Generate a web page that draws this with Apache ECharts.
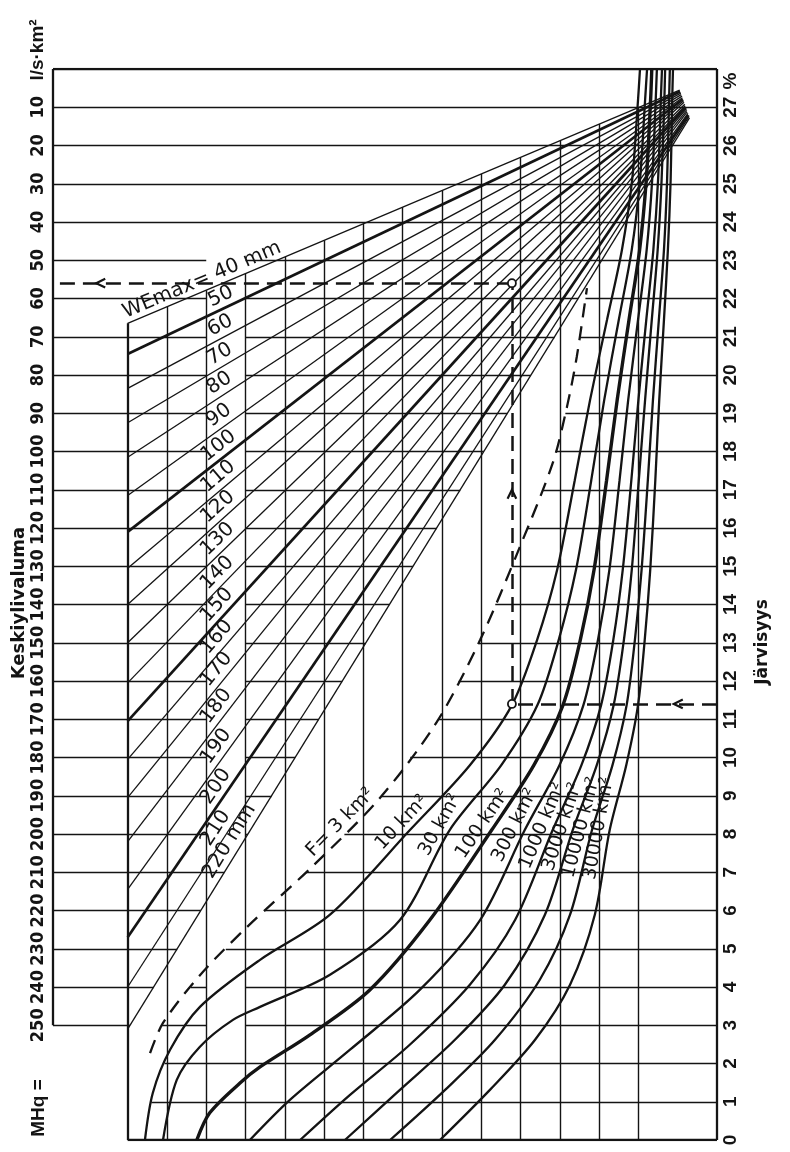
<!DOCTYPE html>
<html>
<head>
<meta charset="utf-8">
<script src="https://cdn.jsdelivr.net/npm/echarts@6.0.0/dist/echarts.min.js"></script>
<style>
html,body{margin:0;padding:0;background:#fff;}
#chart{width:790px;height:1152px;}
</style>
</head>
<body>
<div id="chart"></div>
<script>
// ---------------- DATA ----------------
// left scale: Keskiylivaluma MHq (l/s·km²), right scale: Järvisyys (%)
const mhqTicks = [10,20,30,40,50,60,70,80,90,100,110,120,130,140,150,160,170,180,190,200,210,220,230,240,250];
const jarvisyysTicks = [0,1,2,3,4,5,6,7,8,9,10,11,12,13,14,15,16,17,18,19,20,21,22,23,24,25,26,27];

// WEmax fan lines (mm): MHq where each line meets the inner left border (u = 0) and its end point
const weMax     = [40,50,60,70,80,90,100,110,120,130,140,150,160,170,180,190,200,210,220];
const weLabels  = ['WEmax= 40 mm','50','60','70','80','90','100','110','120','130','140','150','160','170','180','190','200','210','220 mm'];
const weLeftMHq = [66.5,74.5,83.5,92.5,101.5,111.5,121,130.5,140,150,160.5,170.5,180.5,190.5,202,214.5,227,240,251];
const weEndU    = [14.05,14.06,14.08,14.09,14.11,14.12,14.13,14.15,14.16,14.18,14.19,14.2,14.22,14.23,14.24,14.26,14.27,14.29,14.3];
const weEndMHq  = [5.5,5.9,6.3,6.7,7.1,7.5,7.9,8.3,8.7,9.2,9.6,10.0,10.4,10.8,11.2,11.6,12.0,12.4,12.8];

// catchment area curves F (km²): [u, position on the MHq scale]
const fNames = ['F= 3 km²','10 km²','30 km²','100 km²','300 km²','1000 km²','3000 km²','10000 km²','30000 km²'];
const curveF3 = [[0.57,257.3],[0.90,249.4],[1.84,236.9],[3.04,224.3],[4.69,208.6],[6.42,190.6],[7.87,170.7],[8.97,149.3],[9.98,125.0],[10.82,103.0],[11.18,88.4],[11.43,75.3],[11.69,57.3]];
const curveF10 = [[0.44,280],[0.64,267.7],[1.08,256.4],[1.84,245.2],[3.37,232.9],[5.15,221.1],[7.19,198.9],[8.71,182.0],[9.78,166.3],[10.42,149.3],[10.93,131.0],[11.38,107.5],[11.77,86.5],[12.20,65.6],[12.58,47.3],[12.84,29.0],[12.99,8.1],[13.04,0]];
const curveF30 = [[0.90,280],[1.25,264.3],[1.84,255.6],[2.68,248.6],[3.37,245.2],[5.15,236.8],[6.93,222.5],[8.20,198.9],[9.51,182.0],[10.43,166.3],[10.97,149.3],[11.41,131.0],[11.80,107.5],[12.13,86.5],[12.50,65.6],[12.83,47.3],[13.04,29.0],[13.17,8.1],[13.22,0]];
const curveF100 = [[1.76,280],[2.09,272.9],[2.86,265.1],[3.37,260.9],[4.64,252.5],[6.17,240.7],[7.69,222.5],[9.27,198.9],[10.34,182.0],[11.08,166.3],[11.52,149.3],[11.87,131.0],[12.19,107.5],[12.46,86.5],[12.76,65.6],[13.03,47.3],[13.20,29.0],[13.31,8.1],[13.34,0]];
const curveF300 = [[3.11,280],[4.13,269.5],[5.66,256.4],[7.44,240.7],[8.97,222.5],[10.11,198.9],[10.99,182.0],[11.60,166.3],[11.97,149.3],[12.26,131.0],[12.52,107.5],[12.74,86.5],[12.99,65.6],[13.21,47.3],[13.35,29.0],[13.44,8.1],[13.47,0]];
const curveF1000 = [[4.39,280],[5.66,268.2],[7.18,255.1],[8.71,239.4],[9.86,222.5],[10.82,198.9],[11.55,182.0],[12.05,166.3],[12.36,149.3],[12.60,131.0],[12.82,107.5],[13.00,86.5],[13.20,65.6],[13.38,47.3],[13.50,29.0],[13.57,8.1],[13.60,0]];
const curveF3000 = [[5.53,280],[6.93,266.9],[8.33,253.8],[9.60,239.4],[10.62,221.1],[11.33,198.9],[11.94,182.0],[12.37,166.3],[12.63,149.3],[12.83,131.0],[13.01,107.5],[13.17,86.5],[13.34,65.6],[13.49,47.3],[13.59,29.0],[13.66,8.1],[13.68,0]];
const curveF10000 = [[6.68,280],[8.08,266.9],[9.35,253.8],[10.49,238.1],[11.26,221.1],[11.82,198.9],[12.34,182.0],[12.70,166.3],[12.91,149.3],[13.08,131.0],[13.24,107.5],[13.37,86.5],[13.52,65.6],[13.65,47.3],[13.73,29.0],[13.78,8.1],[13.80,0]];
const curveF30000 = [[7.95,280],[9.22,266.9],[10.37,253.8],[11.26,239.4],[11.89,221.1],[12.27,198.9],[12.69,182.0],[12.99,166.3],[13.16,149.3],[13.30,131.0],[13.43,107.5],[13.53,86.5],[13.65,65.6],[13.75,47.3],[13.82,29.0],[13.86,8.1],[13.88,0]];

// worked example: Järvisyys 11.4 % -> F = 10 km² -> WEmax line -> MHq ≈ 56
const exampleJ = 11.4;
const exampleU = 9.78;
const exampleMHq = 56;

// ---------------- LAYOUT CONSTANTS ----------------
const U_MIN = -1.9, U_MAX = 15, V_MAX = 280, BAND_L = 2, BAND_R = 3;
const INK = '#141414';
const fCurves = [curveF3, curveF10, curveF30, curveF100, curveF300, curveF1000, curveF3000, curveF10000, curveF30000];
const NARROW = "'Liberation Sans Narrow','DejaVu Sans Condensed','Liberation Sans',sans-serif";
const BOLD = "'Liberation Sans','DejaVu Sans',sans-serif";
const LABELF = "'DejaVu Sans','Liberation Sans',sans-serif";

// ---------------- GEOMETRY HELPERS ----------------
function interpU(curve, v) {
  for (let i = 0; i < curve.length - 1; i++) {
    const a = curve[i], b = curve[i + 1];
    const lo = Math.min(a[1], b[1]), hi = Math.max(a[1], b[1]);
    if (v >= lo && v <= hi && hi > lo) return a[0] + (b[0] - a[0]) * (v - a[1]) / (b[1] - a[1]);
  }
  return null;
}
function fanV(i, u) { return weLeftMHq[i] + (weEndMHq[i] - weLeftMHq[i]) * u / weEndU[i]; }
function fanU(i, v) { return (v - weLeftMHq[i]) / (weEndMHq[i] - weLeftMHq[i]) * weEndU[i]; }

const lastFan = weMax.length - 1;
const f3Vs = curveF3.map(p => p[1]);
const f3vMin = Math.min(...f3Vs), f3vMax = Math.max(...f3Vs);

// horizontal grid lines (MHq lines on the left, Järvisyys lines on the right)
const hSegs = [];
jarvisyysTicks.filter(j => j > 0).forEach(j => {
  const v = V_MAX - 10 * j;
  const hasLeft = mhqTicks.includes(v);
  let leftEnd = null;
  if (hasLeft) {
    leftEnd = v < weEndMHq[lastFan] ? U_MAX : Math.min(U_MAX, Math.max(0, fanU(lastFan, v)));
  }
  let rightStart;
  if (v >= f3vMin && v <= f3vMax) rightStart = interpU(curveF3, v);
  else if (v > f3vMax) rightStart = interpU(curveF10, v);
  else rightStart = leftEnd;
  const pieces = [];
  if (hasLeft) {
    if (rightStart <= leftEnd + 1e-6) pieces.push([U_MIN, U_MAX]);
    else { pieces.push([U_MIN, leftEnd]); pieces.push([rightStart, U_MAX]); }
  } else pieces.push([rightStart, U_MAX]);
  pieces.forEach(([a, b]) => {
    if (hasLeft && v >= 50 && a < BAND_L && b > BAND_R) {
      hSegs.push({coords: [[a, v], [BAND_L, v]]});
      hSegs.push({coords: [[BAND_R, v], [b, v]]});
    } else hSegs.push({coords: [[a, v], [b, v]]});
  });
});
// vertical grid lines, from the 40 mm line down
const vSegs = [];
for (let k = 1; k <= 13; k++) vSegs.push({coords: [[k, fanV(0, k)], [k, V_MAX]]});

const borderSegs = [
  {coords: [[U_MIN, 0], [U_MAX, 0]]},
  {coords: [[U_MAX, 0], [U_MAX, V_MAX]]},
  {coords: [[0, V_MAX], [U_MAX, V_MAX]]},
  {coords: [[U_MIN, 0], [U_MIN, 250]]},
  {coords: [[0, weLeftMHq[0]], [0, V_MAX]]}
];

const fanThin = [], fanBold = [];
weMax.forEach((w, i) => {
  const seg = {coords: [[0, weLeftMHq[i]], [weEndU[i], weEndMHq[i]]]};
  (w % 50 === 0 ? fanBold : fanThin).push(seg);
});

const exV = V_MAX - 10 * exampleJ;
const exampleSegs = [
  {coords: [[U_MAX, exV], [exampleU, exV]]},
  {coords: [[exampleU, exV], [exampleU, exampleMHq]]},
  {coords: [[exampleU, exampleMHq], [U_MIN, exampleMHq]]}
];

// ---------------- ANNOTATIONS (custom) ----------------
function txt(p, ang, text, size, family, weight) {
  return {type: 'text', x: p[0], y: p[1], rotation: ang, z2: 30,
    style: {text: text, fill: INK, fontSize: size, fontFamily: family, fontWeight: weight || 'normal',
      align: 'center', verticalAlign: 'middle', textAlign: 'center', textVerticalAlign: 'middle'}};
}
function chevron(tip, dx, dy) {
  const L = 10, s = Math.sin(0.45), c = Math.cos(0.45);
  const b1 = [tip[0] - L * (dx * c - dy * s), tip[1] - L * (dx * s + dy * c)];
  const b2 = [tip[0] - L * (dx * c + dy * s), tip[1] - L * (-dx * s + dy * c)];
  return {type: 'polyline', z2: 25, shape: {points: [b1, tip, b2]}, style: {stroke: INK, lineWidth: 2.2, fill: null}};
}
function renderAnno(params, api) {
  const P = (u, v) => api.coord([u, v]);
  const kids = [];
  // fan labels
  weMax.forEach((w, i) => {
    const a0 = P(0, weLeftMHq[i]), a1 = P(weEndU[i], weEndMHq[i]);
    const ang = Math.atan2(a0[1] - a1[1], a1[0] - a0[0]);
    let u = 2.5, off = 12;
    if (i === 0) { u = 2.0; off = 11; }
    else if (i === lastFan) { u = 2.85; off = 12; }
    const p = P(u, fanV(i, u));
    kids.push(txt([p[0] - off * Math.sin(ang), p[1] - off * Math.cos(ang)], ang, weLabels[i], 20, LABELF));
  });
  // F labels
  const LV = 199;
  fCurves.forEach((c, k) => {
    for (let i = 0; i < c.length - 1; i++) {
      const a = c[i], b = c[i + 1];
      if (LV <= a[1] && LV >= b[1]) {
        const u = a[0] + (b[0] - a[0]) * (LV - a[1]) / (b[1] - a[1]);
        const p = P(u, LV), qa = P(a[0], a[1]), qb = P(b[0], b[1]);
        const ang = Math.atan2(qa[1] - qb[1], qb[0] - qa[0]);
        const off = 11;
        kids.push(txt([p[0] - off * Math.sin(ang), p[1] - off * Math.cos(ang)], ang, fNames[k], 19, LABELF));
        break;
      }
    }
  });
  // example arrows & circles
  kids.push(chevron(P(-0.8, exampleMHq), -1, 0));
  kids.push(chevron(P(13.9, exV), -1, 0));
  kids.push(chevron(P(exampleU, 110), 0, -1));
  [[exampleU, exV], [exampleU, exampleMHq]].forEach(q => {
    const p = P(q[0], q[1]);
    kids.push({type: 'circle', z2: 26, shape: {cx: p[0], cy: p[1], r: 4}, style: {fill: '#fff', stroke: INK, lineWidth: 1.8}});
  });
  return {type: 'group', children: kids};
}

// ---------------- CHART ----------------
const chart = echarts.init(document.getElementById('chart'), null, {renderer: 'canvas'});
const lineSeries = fCurves.map((c, k) => ({
  type: 'line', data: c, smooth: 0.3, symbol: 'none', silent: true, z: 5,
  lineStyle: {color: INK, width: k === 3 ? 3.4 : 2.3, type: k === 0 ? [14, 9] : 'solid'}
}));
const linesBase = {type: 'lines', coordinateSystem: 'cartesian2d', silent: true, polyline: false};
const titleStyle = (text, size, fam) => ({text: text, fill: INK, font: 'bold ' + size + 'px ' + (fam || "'Liberation Sans'"), align: 'center', verticalAlign: 'middle', textAlign: 'center', textVerticalAlign: 'middle'});

chart.setOption({
  animation: false,
  backgroundColor: '#fff',
  grid: {left: 53, top: 69, width: 664, height: 1071},
  xAxis: {type: 'value', min: U_MIN, max: U_MAX, show: false},
  yAxis: [
    {type: 'value', inverse: true, min: 0, max: V_MAX, interval: 10, position: 'left',
      axisLine: {show: false}, axisTick: {show: false}, splitLine: {show: false},
      axisLabel: {rotate: 90, margin: 6, color: INK, fontSize: 18, fontWeight: 'bold', fontFamily: NARROW,
        formatter: v => mhqTicks.includes(v) ? String(v) : ''}},
    {type: 'value', min: 0, max: 28, interval: 1, position: 'right',
      axisLine: {show: false}, axisTick: {show: false}, splitLine: {show: false},
      axisLabel: {rotate: 90, margin: 4, color: INK, fontSize: 19, fontWeight: 'bold', fontFamily: BOLD,
        formatter: v => jarvisyysTicks.includes(v) ? String(v) : ''}}
  ],
  graphic: [
    {type: 'text', x: 38, y: 50, rotation: Math.PI / 2, style: titleStyle('l/s·km²', 19)},
    {type: 'text', x: 19, y: 603, rotation: Math.PI / 2, style: titleStyle('Keskiylivaluma', 18, "'DejaVu Sans'")},
    {type: 'text', x: 39, y: 1108, rotation: Math.PI / 2, style: titleStyle('MHq =', 19)},
    {type: 'text', x: 731, y: 81, rotation: Math.PI / 2, style: titleStyle('%', 19)},
    {type: 'text', x: 763, y: 642, rotation: Math.PI / 2, style: titleStyle('Järvisyys', 17, "'DejaVu Sans'")}
  ],
  series: [
    Object.assign({}, linesBase, {name: 'grid', data: hSegs.concat(vSegs), lineStyle: {color: INK, width: 1.4, opacity: 1}, z: 1}),
    Object.assign({}, linesBase, {name: 'border', data: borderSegs, lineStyle: {color: INK, width: 2.3, opacity: 1}, z: 2}),
    Object.assign({}, linesBase, {name: 'fanThin', data: fanThin, lineStyle: {color: INK, width: 1.3, opacity: 1}, z: 3}),
    Object.assign({}, linesBase, {name: 'fanBold', data: fanBold, lineStyle: {color: INK, width: 2.7, opacity: 1}, z: 3}),
    ...lineSeries,
    Object.assign({}, linesBase, {name: 'example', data: exampleSegs, lineStyle: {color: INK, width: 2.5, opacity: 1, type: [15, 8]}, z: 6}),
    {type: 'custom', name: 'annotations', data: [0], renderItem: renderAnno, silent: true, z: 10, clip: false}
  ]
});
</script>
</body>
</html>
